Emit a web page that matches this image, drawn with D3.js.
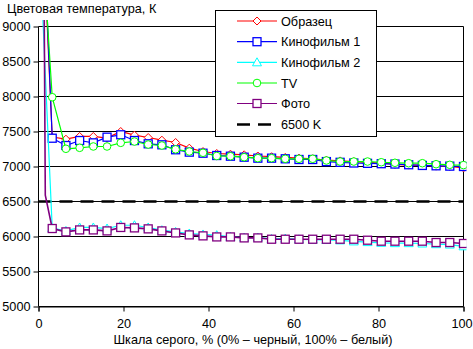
<!DOCTYPE html>
<html><head><meta charset="utf-8">
<script src="https://cdn.jsdelivr.net/npm/d3@7/dist/d3.min.js"></script>
<style>body{margin:0;background:#fff}svg{display:block}text{font-family:"Liberation Sans",Arial,sans-serif;font-size:12.7px;fill:#000}</style>
</head><body>
<script>
const xValues = [0, 1.6, 3.23, 6.45, 9.68, 12.9, 16.13, 19.35, 22.58, 25.81, 29.03, 32.26, 35.48, 38.71, 41.94, 45.16, 48.39, 51.61, 54.84, 58.06, 61.29, 64.52, 67.74, 70.97, 74.19, 77.42, 80.65, 83.87, 87.1, 90.32, 93.55, 96.77, 100];
const obrazec = [12000, 9630, 7420, 7390, 7429, 7429, 7405, 7500, 7448, 7414, 7376, 7343, 7262, 7214, 7186, 7176, 7167, 7150, 7140, 7130, 7120, 7110, 7090, 7080, 7070, 7060, 7050, 7030, 7020, 7020, 7005, 7000, 6980];
const kino1 = [12500, 9800, 7404, 7300, 7371, 7338, 7419, 7453, 7371, 7324, 7310, 7239, 7205, 7190, 7157, 7147, 7133, 7119, 7119, 7110, 7100, 7100, 7070, 7060, 7050, 7045, 7040, 7035, 7025, 7015, 7010, 7005, 7000];
const kino2 = [10540, 8320, 6120, 6080, 6129, 6129, 6114, 6161, 6161, 6129, 6090, 6066, 6043, 6029, 6019, 5995, 5985, 5985, 5965, 5970, 5960, 5955, 5950, 5945, 5930, 5920, 5910, 5905, 5905, 5900, 5890, 5885, 5860];
const tv = [11500, 9550, 7990, 7253, 7267, 7286, 7286, 7338, 7357, 7314, 7300, 7245, 7214, 7196, 7150, 7147, 7133, 7119, 7119, 7110, 7110, 7110, 7086, 7071, 7071, 7071, 7061, 7053, 7047, 7047, 7033, 7024, 7020];
const foto = [23000, 6590, 6114, 6066, 6094, 6094, 6080, 6129, 6123, 6109, 6080, 6051, 6023, 6009, 5994, 5994, 5980, 5980, 5961, 5961, 5961, 5961, 5961, 5961, 5961, 5947, 5933, 5933, 5933, 5933, 5914, 5914, 5900];
const refValue = 6500;
const yTicks = [5000, 5500, 6000, 6500, 7000, 7500, 8000, 8500, 9000];
const xTicks = [0, 20, 40, 60, 80, 100];
const seriesNames = ["Образец", "Кинофильм 1", "Кинофильм 2", "TV", "Фото"];
const refName = "6500 K";
const titleY = "Цветовая температура, К";
const titleX = "Шкала серого, % (0% – черный, 100% – белый)";

const W = 473, H = 349;
const FS = 12.7;
const series = [
  {name: seriesNames[0], values: obrazec, color: "#ff0000", marker: "diamond"},
  {name: seriesNames[1], values: kino1, color: "#0000ff", marker: "square"},
  {name: seriesNames[2], values: kino2, color: "#00ffff", marker: "triangle"},
  {name: seriesNames[3], values: tv, color: "#00ff00", marker: "circle"},
  {name: seriesNames[4], values: foto, color: "#800080", marker: "square"}
];
const firstMarker = 2;

const x = d3.scaleLinear().domain([0, 100]).range([38.5, 463.5]);
const y = d3.scaleLinear().domain([5000, 9000]).range([306.5, 26.5]);

const svg = d3.select("body").append("svg").attr("width", W).attr("height", H);
svg.append("rect").attr("width", W).attr("height", H).attr("fill", "#fff");

svg.append("g").selectAll("line").data(yTicks).join("line")
  .attr("x1", x(0)).attr("x2", x(100)).attr("y1", d => y(d)).attr("y2", d => y(d))
  .attr("stroke", "#000").attr("stroke-width", 1);
svg.append("line").attr("x1", x(100)).attr("x2", x(100)).attr("y1", y(9000)).attr("y2", y(5000)).attr("stroke", "#000");

const yAxis = d3.axisLeft(y).tickValues(yTicks).tickSize(5).tickPadding(3).tickFormat(d3.format("d"));
const gy = svg.append("g").attr("transform", `translate(${x(0)},0)`).call(yAxis);
const xAxis = d3.axisBottom(x).tickValues(xTicks).tickSize(5).tickPadding(7).tickFormat(d3.format("d"));
const gx = svg.append("g").attr("transform", `translate(0,${y(5000)})`).call(xAxis);
[gy, gx].forEach(g => {
  g.select(".domain").attr("stroke", "#000");
  g.selectAll(".tick line").attr("stroke", "#000");
  g.selectAll("text").attr("font-family", '"Liberation Sans",Arial,sans-serif').attr("font-size", FS).attr("fill", "#000");
});
gy.select(".domain").attr("d", `M-0.0,${y(9000)}V${y(5000)}`);
gx.selectAll(".tick text").filter(d => d === 100).attr("dx", -2);

svg.append("clipPath").attr("id", "clip").append("rect")
  .attr("x", x(0) - 1).attr("y", 20).attr("width", x(100) - x(0) + 4).attr("height", y(5000) - 20);

svg.append("line").attr("x1", x(0)).attr("x2", x(100)).attr("y1", y(refValue)).attr("y2", y(refValue))
  .attr("stroke", "#000").attr("stroke-width", 2.5).attr("stroke-dasharray", "13,8");

const plot = svg.append("g").attr("clip-path", "url(#clip)");
const line = d3.line().x((d, i) => x(xValues[i])).y(d => y(d));

function drawMarker(g, type, cx, cy, color) {
  if (type === "diamond") {
    g.append("path").attr("d", `M${cx},${cy-4}L${cx+4},${cy}L${cx},${cy+4}L${cx-4},${cy}Z`)
      .attr("fill", "#fff").attr("stroke", color);
  } else if (type === "square") {
    g.append("rect").attr("x", cx - 4).attr("y", cy - 4).attr("width", 8).attr("height", 8)
      .attr("fill", "#fff").attr("stroke", color).attr("stroke-width", 1.3);
  } else if (type === "triangle") {
    g.append("path").attr("d", `M${cx},${cy-4.5}L${cx+4.5},${cy+3.5}L${cx-4.5},${cy+3.5}Z`)
      .attr("fill", "#fff").attr("stroke", color);
  } else {
    g.append("circle").attr("cx", cx).attr("cy", cy).attr("r", 3.8)
      .attr("fill", "#fff").attr("stroke", color);
  }
}

series.forEach(s => {
  const g = plot.append("g");
  g.append("path").datum(s.values).attr("d", line).attr("fill", "none")
    .attr("stroke", s.color).attr("stroke-width", s.color === "#800080" ? 1.6 : 1.2);
  s.values.forEach((v, i) => {
    if (i >= firstMarker) drawMarker(g, s.marker, x(xValues[i]), y(v), s.color);
  });
});

svg.append("text").attr("x", 7).attr("y", 13).text(titleY);
svg.append("text").attr("x", 253).attr("y", 344).attr("text-anchor", "middle").text(titleX);

const lg = svg.append("g");
lg.append("rect").attr("x", 215.5).attr("y", 10.5).attr("width", 161).attr("height", 126)
  .attr("fill", "#fff").attr("stroke", "#000");
const rows = [21, 41.7, 62.3, 83, 103.5];
series.forEach((s, i) => {
  const cy = rows[i];
  lg.append("line").attr("x1", 237).attr("x2", 277).attr("y1", cy).attr("y2", cy).attr("stroke", s.color).attr("stroke-width", 1.2);
  drawMarker(lg, s.marker, 257, cy, s.color);
  lg.append("text").attr("x", 281).attr("y", cy + 4.5).text(s.name);
});
lg.append("line").attr("x1", 237).attr("x2", 272).attr("y1", 124.5).attr("y2", 124.5)
  .attr("stroke", "#000").attr("stroke-width", 2.5).attr("stroke-dasharray", "13,8");
lg.append("text").attr("x", 281).attr("y", 129).text(refName);
</script>
</body></html>
